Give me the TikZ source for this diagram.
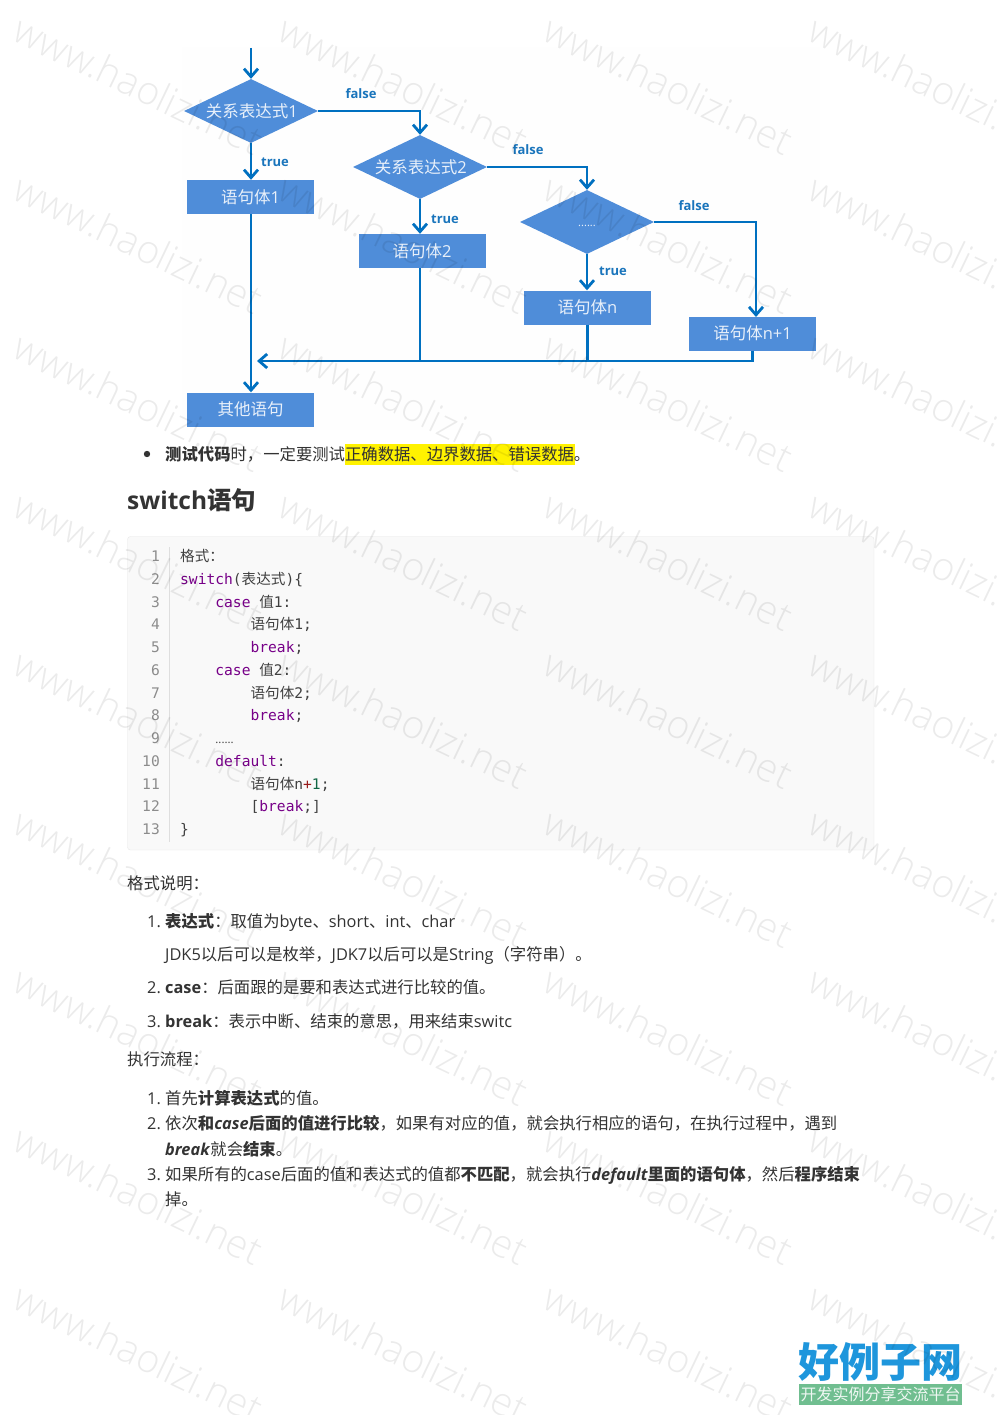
\documentclass[tikz,border=0pt]{standalone}
\usepackage{fontspec}
\usetikzlibrary{shapes.geometric,arrows.meta}
\setmainfont{Noto Sans CJK SC}
\newfontfamily\latfont{Open Sans}
\newfontfamily\markfont{Open Sans Light}
\newfontfamily\monofont{DejaVu Sans Mono}
\newcommand{\lat}[1]{{\latfont #1}}
\newcommand{\kw}[1]{{\monofont\color{kwpurple}#1}}
\newcommand{\mn}[1]{{\monofont #1}}
\newcommand{\fsz}[1]{\fontsize{#1}{#1}\selectfont}
\definecolor{flowblue}{HTML}{0070C0}
\definecolor{boxblue}{HTML}{4F8DD9}
\definecolor{boxtext}{HTML}{E8F0FA}
\definecolor{labelblue}{HTML}{1A75BC}
\definecolor{bodytext}{HTML}{333333}
\definecolor{kwpurple}{HTML}{770088}
\definecolor{logoblue}{HTML}{1E96DC}
\definecolor{logogreen}{HTML}{70BE90}
\tikzset{
  flowbox/.style={rectangle,fill=boxblue,text=boxtext,minimum width=127pt,minimum height=34pt,inner sep=0pt,font=\fsz{16.5}},
  flowcond/.style={diamond,aspect=2.1,fill=boxblue,text=boxtext,minimum width=134pt,minimum height=64pt,inner sep=0pt,font=\fsz{16.5}},
  flowline/.style={draw=flowblue,line width=2.8pt},
  flowarrow/.style={flowline,-{Straight Barb[length=8pt,width=14pt,line width=2.8pt]}},
  flowlabel/.style={text=labelblue,font=\fsz{13}\latfont\bfseries,inner sep=0pt},
  bodyline/.style={anchor=base west,text=bodytext,font=\fsz{16.35},inner sep=0pt},
  numline/.style={anchor=base east,text=black!45,font=\fsz{14.6}\monofont,inner sep=0pt},
  codeline/.style={anchor=base west,text=black!75,font=\fsz{14.6},inner sep=0pt},
  watermark/.style={text=black,opacity=0.08,rotate=-25.6,font=\fsz{39}\markfont,inner sep=0pt},
}

\begin{document}
\begin{tikzpicture}[x=1pt,y=-1pt]

    \useasboundingbox (0,0) rectangle (1000,1415);
    \fill[white] (0,0) rectangle (1000,1415);

    % flow chart
    \fill[fill=black!0.5] (182,47) rectangle (820,430);

    \coordinate (start) at (251,48);
    \node[flowcond] (cond1) at (251,111) {\hspace{1.5pt}关系表达式\lat{1}};
    \node[flowcond] (cond2) at (420,167) {\hspace{1.5pt}关系表达式\lat{2}};
    \node[flowcond] (cond3) at (587,222) {\raisebox{-5pt}[0pt][0pt]{\lat{\fsz{11}......}}};

    \node[flowbox] (body1) at (250.5,197) {语句体\lat{1}};
    \node[flowbox] (body2) at (422,251) {语句体\lat{2}};
    \node[flowbox] (bodyn) at (587.5,307.5) {语句体\lat{n}};
    \node[flowbox] (bodylast) at (752.5,333.5) {语句体\lat{n+1}};
    \node[flowbox] (other) at (250.5,409.5) {其他语句};

    \coordinate (merge) at (257,361);
    \coordinate (lastin) at (756,317);

    \draw[flowarrow] (start) -- (cond1.north);
    \draw[flowarrow] (cond1.south) -- (cond1.south |- body1.north);
    \draw[flowarrow] (cond1.east) -| (cond2.north);
    \draw[flowarrow] (cond2.south) -- (cond2.south |- body2.north);
    \draw[flowarrow] (cond2.east) -| (cond3.north);
    \draw[flowarrow] (cond3.south) -- (cond3.south |- bodyn.north);
    \draw[flowarrow] (cond3.east) -| (lastin);
    \draw[flowarrow] (cond1.south |- body1.south) -- (cond1.south |- other.north);
    \draw[flowline] (bodylast.south) |- (merge -| cond2.south);
    \draw[flowline] (bodyn.south) -- (bodyn.south |- merge);
    \draw[flowline] (cond2.south |- body2.south) -- (cond2.south |- merge);
    \draw[flowarrow] (cond2.south |- merge) -- (merge);

    \node[flowlabel] (false1) at (361,94) {false};
    \node[flowlabel] (false2) at (528,150) {false};
    \node[flowlabel] (false3) at (694,206) {false};
    \node[flowlabel] (true1) at (275,162) {true};
    \node[flowlabel] (true2) at (445,219) {true};
    \node[flowlabel] (true3) at (613,271) {true};

    % bullet line
    \fill[fill=yellow] (345,444) rectangle (575,465);
    \fill[fill=bodytext] (147,454) circle (3.2);
    \node[bodyline] (test) at (165,460) {\textbf{测试代码}时，一定要测试正确数据、边界数据、错误数据。};

    \node[bodyline,font=\fsz{24.5}\bfseries] (title) at (127,509) {\lat{switch}语句};

    % code block
    \draw[draw=black!9,fill=black!2.5,rounded corners=3pt] (127.5,536.5) rectangle (874,850);
    \draw[draw=black!13,line width=1pt] (169,547) -- (169,842);

    \foreach \n in {1,...,13}
        \node[numline] (num\n) at (160,{561.5+(\n-1)*22.75}) {\n};

    \node[codeline] (code1) at (180,561.5) {格式：};
    \node[codeline] (code2) at (180,584.25) {\kw{switch}\mn{(}表达式\mn{)\{}};
    \node[codeline] (code3) at (215.2,607) {\kw{case}\mn{~}值\mn{1:}};
    \node[codeline] (code4) at (250.4,629.75) {语句体\mn{1;}};
    \node[codeline] (code5) at (250.4,652.5) {\kw{break}\mn{;}};
    \node[codeline] (code6) at (215.2,675.25) {\kw{case}\mn{~}值\mn{2:}};
    \node[codeline] (code7) at (250.4,698) {语句体\mn{2;}};
    \node[codeline] (code8) at (250.4,720.75) {\kw{break}\mn{;}};
    \node[codeline] (code9) at (215.2,743.5) {\lat{\fsz{11.5}......}};
    \node[codeline] (code10) at (215.2,766.25) {\kw{default}\mn{:}};
    \node[codeline] (code11) at (250.4,789) {语句体\mn{n}{\monofont\color[HTML]{981A1A}+}{\monofont\color[HTML]{116644}1}\mn{;}};
    \node[codeline] (code12) at (250.4,811.75) {\mn{[}\kw{break}\mn{;]}};
    \node[codeline] (code13) at (180,834.5) {\mn{\}}};

    % text
    \node[bodyline] (head1) at (127,889) {格式说明：};
    \node[bodyline] (a1) at (147,927) {\lat{1.}};
    \node[bodyline] (a1t) at (165,927) {\textbf{表达式}：取值为\lat{byte}、\lat{short}、\lat{int}、\lat{char}};
    \node[bodyline] (a1u) at (165,960) {\lat{JDK5}以后可以是枚举，\lat{JDK7}以后可以是\lat{String}（字符串）。};
    \node[bodyline] (a2) at (147,993) {\lat{2.}};
    \node[bodyline] (a2t) at (165,993) {\textbf{\lat{case}}：后面跟的是要和表达式进行比较的值。};
    \node[bodyline] (a3) at (147,1027) {\lat{3.}};
    \node[bodyline] (a3t) at (165,1027) {\textbf{\lat{break}}：表示中断、结束的意思，用来结束\lat{switc}};

    \node[bodyline] (head2) at (127,1065) {执行流程：};
    \node[bodyline] (b1) at (147,1104) {\lat{1.}};
    \node[bodyline] (b1t) at (165,1104) {首先\textbf{计算表达式}的值。};
    \node[bodyline] (b2) at (147,1129) {\lat{2.}};
    \node[bodyline] (b2t) at (165,1129) {依次\textbf{和\lat{\itshape case}后面的值进行比较}，如果有对应的值，就会执行相应的语句，在执行过程中，遇到};
    \node[bodyline] (b2u) at (165,1155) {\textbf{\lat{\itshape break}}就会\textbf{结束}。};
    \node[bodyline] (b3) at (147,1180) {\lat{3.}};
    \node[bodyline] (b3t) at (165,1180) {如果所有的\lat{case}后面的值和表达式的值都\textbf{不匹配}，就会执行\textbf{\lat{\itshape default}里面的语句体}，然后\textbf{程序结束}};
    \node[bodyline] (b3u) at (165,1205) {掉。};

    % logo
    \node[text=logoblue,font=\fsz{41}\bfseries,inner sep=0pt] (logo) at (880.5,1362) {好例子网};
    \fill[fill=logogreen] (799,1384) rectangle (962,1405);
    \node[text=white!88!logogreen,font=\fsz{16},inner sep=0pt] (slogan) at (880.5,1394.5) {开发实例分享交流平台};

    % watermark on top
    \foreach \i in {0,...,3}
        \foreach \j in {0,...,8}
            \node[watermark] (wm\i\j) at ({138.5+265*\i},{85+158.5*\j}) {www.haolizi.net};

\end{tikzpicture}
\end{document}
